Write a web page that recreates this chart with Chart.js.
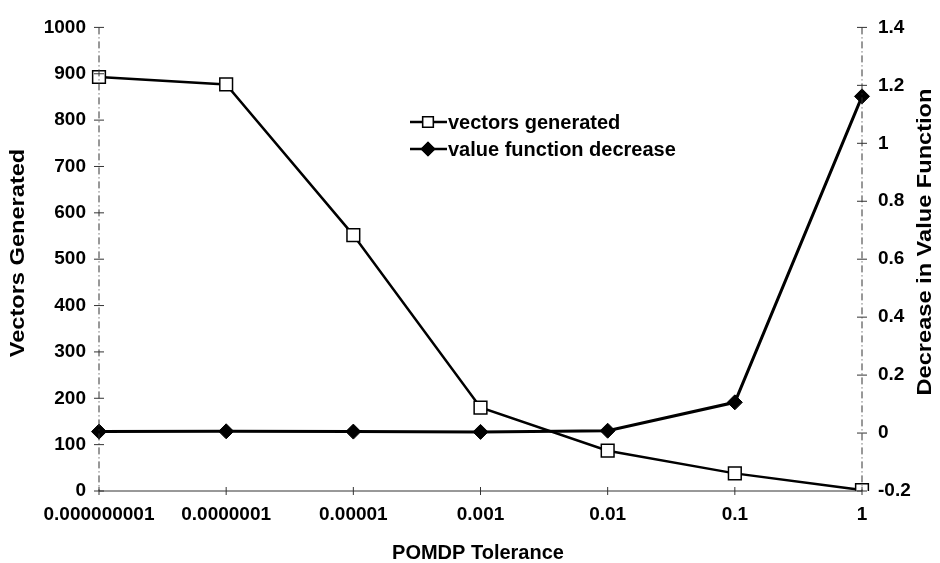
<!DOCTYPE html>
<html>
<head>
<meta charset="utf-8">
<script src="https://cdn.jsdelivr.net/npm/chart.js@4.4.0/dist/chart.umd.min.js"></script>
<style>
  html, body { margin: 0; padding: 0; background: #fff; }
  #wrap { width: 940px; height: 563px; }
</style>
</head>
<body>
<div id="wrap"><canvas id="tolChart" width="940" height="563"></canvas></div>
<script>
// tolerance settings on the x axis
const tolerances = ["0.000000001", "0.0000001", "0.00001", "0.001", "0.01", "0.1", "1"];
// number of vectors generated at each tolerance (left axis)
const vectorsGenerated = [893, 877, 552, 180, 87, 38, 2];
// decrease in value function at each tolerance (right axis)
const valueDecrease = [0.005, 0.006, 0.005, 0.004, 0.008, 0.106, 1.162];

const FONT = "'Liberation Sans', Arial, sans-serif";

// rotated axis title, stretched a bit along its length
function drawVerticalTitle(ctx, text, cx, cy) {
    ctx.save();
    ctx.fillStyle = "#000";
    ctx.font = "bold 20px " + FONT;
    ctx.textAlign = "center";
    ctx.textBaseline = "middle";
    ctx.translate(cx, cy);
    ctx.rotate(-Math.PI / 2);
    ctx.scale(1.18, 1);
    ctx.fillText(text, 0, 0);
    ctx.restore();
}

// dash-dot axis lines with ticks that cross them, plus the axis titles
const axisDecor = {
    id: "axisDecor",
    afterDraw(chart) {
        const ctx = chart.ctx;
        const area = chart.chartArea;
        const y = chart.scales.y, y1 = chart.scales.y1, x = chart.scales.x;
        ctx.save();
        ctx.strokeStyle = "#333";
        ctx.lineWidth = 1;
        ctx.setLineDash([7, 3, 1, 3]);
        ctx.beginPath();
        ctx.moveTo(area.left, y.getPixelForValue(1000));
        ctx.lineTo(area.left, area.bottom);
        ctx.moveTo(area.right, y1.getPixelForValue(1.4));
        ctx.lineTo(area.right, area.bottom);
        ctx.stroke();
        ctx.setLineDash([]);
        // tick marks crossing the vertical axes
        ctx.beginPath();
        y.ticks.forEach(t => {
            const py = y.getPixelForValue(t.value);
            ctx.moveTo(area.left - 5, py);
            ctx.lineTo(area.left + 5, py);
        });
        y1.ticks.forEach(t => {
            const py = y1.getPixelForValue(t.value);
            ctx.moveTo(area.right - 5, py);
            ctx.lineTo(area.right + 5, py);
        });
        // bottom axis
        ctx.moveTo(area.left, area.bottom);
        ctx.lineTo(area.right, area.bottom);
        tolerances.forEach((_, i) => {
            const px = x.getPixelForValue(i);
            ctx.moveTo(px, area.bottom - 4);
            ctx.lineTo(px, area.bottom + 4);
        });
        ctx.stroke();

        ctx.fillStyle = "#000";
        ctx.font = "bold 20px " + FONT;
        ctx.textAlign = "center";
        ctx.textBaseline = "middle";
        ctx.fillText("POMDP Tolerance", 478, 553);
        ctx.restore();

        drawVerticalTitle(ctx, "Vectors Generated", 18, 253);
        drawVerticalTitle(ctx, "Decrease in Value Function", 925, 242);
    }
};

// legend drawn inside the plot
const innerLegend = {
    id: "innerLegend",
    afterDraw(chart) {
        const ctx = chart.ctx;
        const rows = [
            { label: "vectors generated", style: "rect", fill: "#fff", r: 7.5, y: 122 },
            { label: "value function decrease", style: "rectRot", fill: "#000", r: 6.5, y: 149 }
        ];
        ctx.save();
        rows.forEach(row => {
            ctx.strokeStyle = "#000";
            ctx.lineWidth = 2.5;
            ctx.beginPath();
            ctx.moveTo(410, row.y);
            ctx.lineTo(447, row.y);
            ctx.stroke();
            ctx.fillStyle = row.fill;
            ctx.lineWidth = 1.5;
            Chart.helpers.drawPoint(ctx, { pointStyle: row.style, radius: row.r, borderWidth: 1.5 }, 428, row.y);
            ctx.fill();
            ctx.stroke();
            ctx.fillStyle = "#000";
            ctx.font = "bold 20px " + FONT;
            ctx.textBaseline = "middle";
            ctx.textAlign = "left";
            ctx.fillText(row.label, 448, row.y + 1);
        });
        ctx.restore();
    }
};

const tickFont = { family: FONT, size: 19, weight: "bold" };

new Chart(document.getElementById("tolChart"), {
    type: "line",
    data: {
        labels: tolerances,
        datasets: [{
            label: "vectors generated",
            data: vectorsGenerated,
            yAxisID: "y",
            borderColor: "#000",
            borderWidth: 2.5,
            pointStyle: "rect",
            pointRadius: 9,
            pointBackgroundColor: "#fff",
            pointBorderColor: "#000",
            pointBorderWidth: 1.5,
            tension: 0
        }, {
            label: "value function decrease",
            data: valueDecrease,
            yAxisID: "y1",
            borderColor: "#000",
            borderWidth: 3,
            pointStyle: "rectRot",
            pointRadius: 7.5,
            pointBackgroundColor: "#000",
            pointBorderColor: "#000",
            pointBorderWidth: 1,
            tension: 0
        }]
    },
    options: {
        responsive: false,
        animation: false,
        layout: { padding: { top: 22, left: 0, right: 0, bottom: 0 } },
        plugins: { legend: { display: false }, tooltip: { enabled: false } },
        scales: {
            x: {
                offset: false,
                grid: { display: false, drawTicks: false },
                border: { display: false },
                ticks: { color: "#000", font: tickFont, padding: 12, maxRotation: 0, autoSkip: false },
                afterFit(scale) { scale.height = 72; }
            },
            y: {
                position: "left",
                min: 0, max: 1000,
                grid: { display: false, drawTicks: false },
                border: { display: false },
                ticks: { stepSize: 100, color: "#000", font: tickFont, padding: 13, callback: v => String(v) },
                afterFit(scale) { scale.width = 99; }
            },
            y1: {
                position: "right",
                min: -0.2, max: 1.4,
                grid: { display: false, drawTicks: false },
                border: { display: false },
                ticks: {
                    stepSize: 0.2, color: "#000", font: tickFont, padding: 16,
                    callback: v => String(Math.round(v * 10) / 10)
                },
                afterFit(scale) { scale.width = 78; }
            }
        }
    },
    plugins: [axisDecor, innerLegend]
});
</script>
</body>
</html>
